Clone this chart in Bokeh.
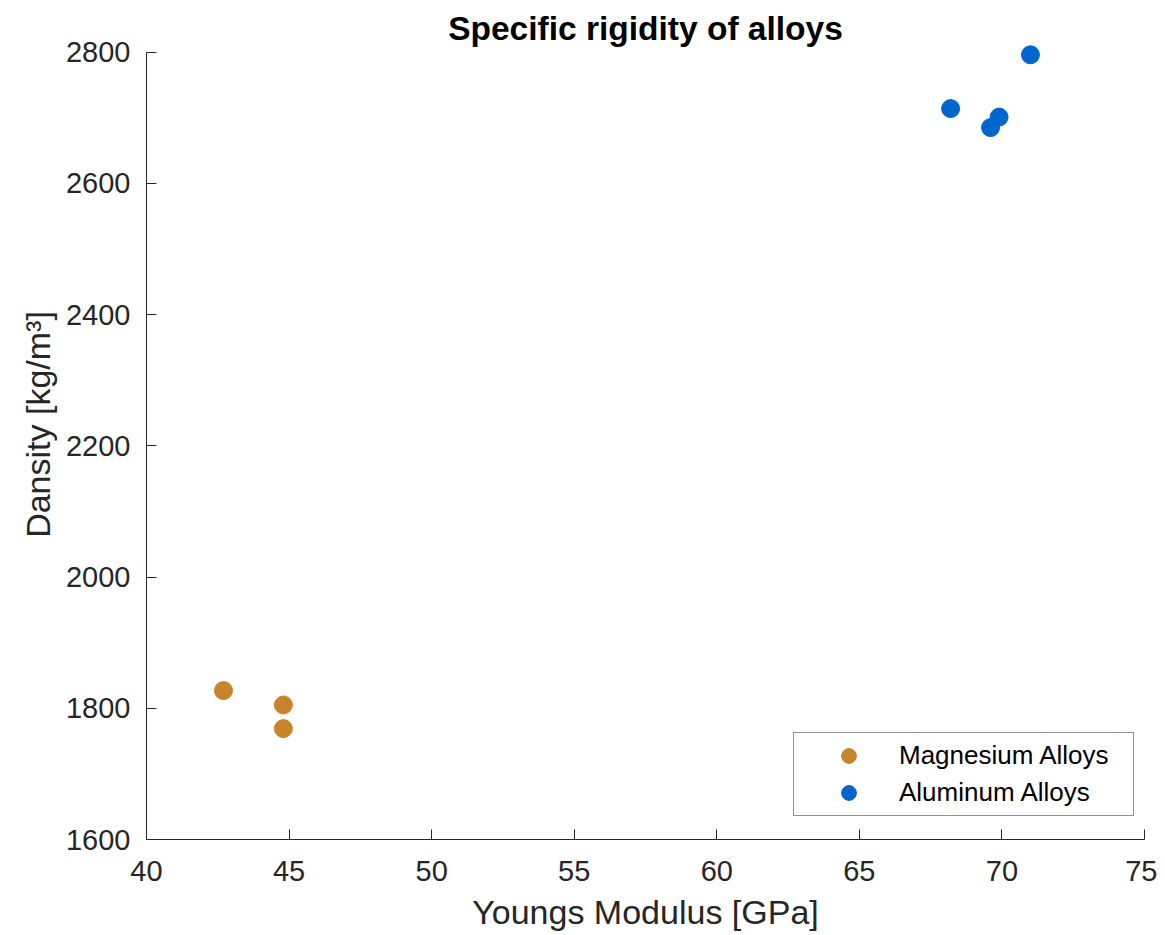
from bokeh.plotting import figure
from bokeh.models import Range1d, FixedTicker, Legend, LegendItem, Label
from bokeh.embed import file_html
from bokeh.resources import INLINE

# Data
mg_modulus = [42.7, 44.8, 44.8]
mg_density = [1827, 1805, 1769]
al_modulus = [68.2, 69.6, 69.9, 71.0]
al_density = [2714, 2685, 2701, 2796]
x_ticks = [40, 45, 50, 55, 60, 65, 70, 75]
y_ticks = [1600, 1800, 2000, 2200, 2400, 2600, 2800]
title_text = "Specific rigidity of alloys"

FONT = "Liberation Sans"
TXT = "#262626"

p = figure(width=1157, height=933, output_backend="svg", toolbar_location=None,
           x_range=Range1d(40, 75), y_range=Range1d(1600, 2865),
           min_border_left=146, min_border_right=13, min_border_top=9, min_border_bottom=94)

p.outline_line_color = None
p.xgrid.visible = False
p.ygrid.visible = False

for ax, ticks in ((p.xaxis, x_ticks), (p.yaxis, y_ticks)):
    ax.ticker = FixedTicker(ticks=ticks)
    ax.minor_tick_line_color = None
    ax.major_tick_in = 10
    ax.major_tick_out = 0
    ax.axis_line_color = TXT
    ax.major_tick_line_color = TXT
    ax.major_label_text_font = FONT
    ax.major_label_text_font_size = "29px"
    ax.major_label_text_color = TXT
    ax.axis_label_text_font = FONT
    ax.axis_label_text_font_size = "34px"
    ax.axis_label_text_font_style = "normal"
    ax.axis_label_text_color = TXT

p.yaxis.bounds = (1600, 2800)
p.xaxis.axis_label = "Youngs Modulus [GPa]"
p.yaxis.axis_label = "Dansity [kg/m³]"
p.xaxis.major_label_standoff = 21
p.yaxis.major_label_standoff = 16
p.xaxis.axis_label_standoff = 9
p.yaxis.axis_label_standoff = 6

r_mg = p.scatter(mg_modulus, mg_density, size=18, color="#C8842A", line_color="#C8842A")
r_al = p.scatter(al_modulus, al_density, size=18, color="#0066CC", line_color="#0066CC")

title = Label(x=57.5, y=2836, text=title_text, text_align="center", text_baseline="alphabetic",
              text_font=FONT, text_font_size="33.5px", text_font_style="bold", text_color="#000000")
p.add_layout(title)

legend = Legend(items=[LegendItem(label="Magnesium Alloys", renderers=[r_mg]),
                       LegendItem(label="Aluminum Alloys", renderers=[r_al])],
                location=(647, 23))
legend.label_text_font = FONT
legend.label_text_font_size = "26px"
legend.label_text_color = "#000000"
legend.glyph_height = 37
legend.glyph_width = 101
legend.label_height = 37
legend.label_width = 230
legend.spacing = 0
legend.padding = 4
legend.label_standoff = 0
legend.margin = 0
legend.border_line_color = TXT
legend.border_line_width = 1
legend.background_fill_color = "white"
legend.background_fill_alpha = 1
p.add_layout(legend)

open("out.html", "w").write(file_html(p, INLINE))
